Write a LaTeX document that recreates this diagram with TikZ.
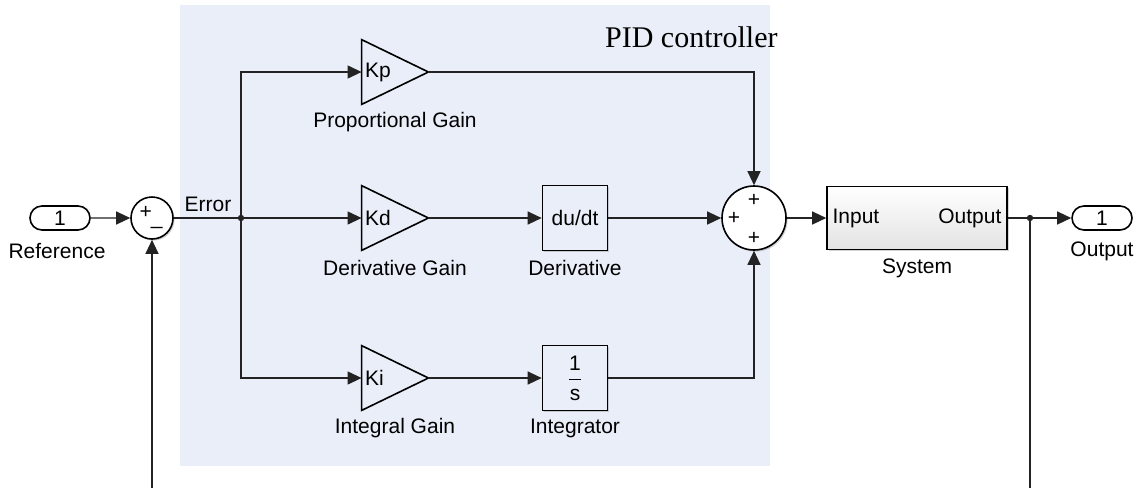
\documentclass[tikz,border=0pt]{standalone}
\usepackage{fontspec}
\setmainfont{Liberation Serif}
\setsansfont{Liberation Sans}
\usetikzlibrary{arrows.meta, shapes.geometric, shapes.misc, shadows, positioning}
\definecolor{pidnen}{RGB}{233,238,248}
\definecolor{daynoi}{RGB}{35,35,35}
\tikzset{
	day/.style={draw=daynoi, line width=0.6pt, -{Triangle[length=7pt, width=6.5pt]}},
	tron/.style={draw=daynoi, line width=0.6pt},
	bong/.style={drop shadow={shadow xshift=0.8pt, shadow yshift=-0.8pt, opacity=0.35}},
	cong/.style={circle, draw, line width=0.8pt, fill=white, inner sep=0pt, bong},
	khoi/.style={draw, line width=0.8pt, fill=pidnen, minimum width=32.5pt, minimum height=32.5pt, inner sep=0pt, bong},
	heso/.style={minimum width=33pt, minimum height=32pt, inner sep=1.5pt, text width=30pt, align=left},
	cua/.style={rounded rectangle, draw, line width=0.8pt, fill=white, minimum width=30pt, minimum height=12pt, inner sep=0pt},
	nhan/.style={inner sep=1pt},
}
\begin{document}
\begin{tikzpicture}[x=0.5pt, y=-0.5pt, font=\sffamily\fontsize{10.5}{12}\selectfont]
	\useasboundingbox (0,0) rectangle (1139,488);
	% 1. Nền của bộ điều khiển PID
	\fill[pidnen] (180,5) rectangle (770,466);
	\node[anchor=east, font=\rmfamily\fontsize{15}{18}\selectfont, inner sep=0pt] (tieude) at (778,37) {PID controller};
	
	% 2. Cổng vào, bộ cộng và tín hiệu sai số
	\node[cua] (ref) at (60,218) {1};
	\node[nhan] (reflbl) at (57,251) {Reference};
	\node[cong, minimum size=21pt] (sum1) at (152,218) {};
	\node[inner sep=0pt] (sum1dau) at (151,218) {+\kern-0.5pt\raisebox{-3pt}{\_}};
	\coordinate (nutloi) at (241,218);
	\node[nhan] (errlbl) at (208,204) {Error};
	
	% 3. Ba khâu khuếch đại (tam giác)
	\node[heso] (kp) at (395,72) {Kp};
	\node[heso] (kd) at (395,218) {Kd};
	\node[heso] (ki) at (395,378) {Ki};
	\foreach \g in {kp,kd,ki}
		\draw[line width=0.8pt] (\g.north west) -- (\g.east) -- (\g.south west) -- cycle;
	\node[nhan] (kplbl) at (395,122) {Proportional Gain};
	\node[nhan] (kdlbl) at (395,268) {Derivative Gain};
	\node[nhan] (kilbl) at (395,428) {Integral Gain};
	
	% 4. Khâu vi phân và tích phân
	\node[khoi] (deriv) at (575,218) {du/dt};
	\node[khoi] (integ) at (575,378) {$\displaystyle\frac{\mbox{1}}{\mbox{s}}$};
	\node[nhan] (derivlbl) at (575,268) {Derivative};
	\node[nhan] (integlbl) at (575,428) {Integrator};
	
	% 5. Bộ cộng ba đầu vào
	\node[cong, minimum size=32pt] (sum2) at (754,218) {};
	\node[inner sep=0pt] (s2tren) at (754,200) {+};
	\node[inner sep=0pt] (s2trai) at (734,218) {+};
	\node[inner sep=0pt] (s2duoi) at (754,238) {+};
	
	% 6. Đối tượng điều khiển và cổng ra
	\node[draw, line width=0.8pt, top color=white, bottom color=gray!22, minimum width=90pt, minimum height=31.5pt, bong] (sys) at (917,218) {};
	\node[anchor=west, inner sep=3pt] (sysin) at (sys.west) {Input};
	\node[anchor=east, inner sep=3pt] (sysout) at (sys.east) {Output};
	\node[nhan] (syslbl) at (917,268) {System};
	\node[cua] (out) at (1102,218) {1};
	\node[nhan] (outlbl) at (1102,251) {Output};
	\coordinate (nutra) at (1030,218);
	\coordinate (hoitiep1) at (1030,488);
	\coordinate (hoitiep2) at (152,488);
	
	% 7. Các đường nối
	\draw[day] (ref) -- (sum1);
	\draw[tron] (sum1) -- (nutloi);
	\fill[daynoi] (nutloi) circle (1.6pt);
	\draw[day] (nutloi) |- (kp);
	\draw[day] (nutloi) -- (kd);
	\draw[day] (nutloi) |- (ki);
	\draw[day] (kp.east) -| (sum2);
	\draw[day] (kd.east) -- (deriv);
	\draw[day] (deriv) -- (sum2);
	\draw[day] (ki.east) -- (integ);
	\draw[day] (integ) -| (sum2);
	\draw[day] (sum2) -- (sys);
	\draw[tron] (sys) -- (nutra);
	\fill[daynoi] (nutra) circle (1.6pt);
	\draw[day] (nutra) -- (out);
	\draw[tron] (nutra) -- (hoitiep1);
	\draw[day] (hoitiep2) -- (sum1);
\end{tikzpicture}
\end{document}
